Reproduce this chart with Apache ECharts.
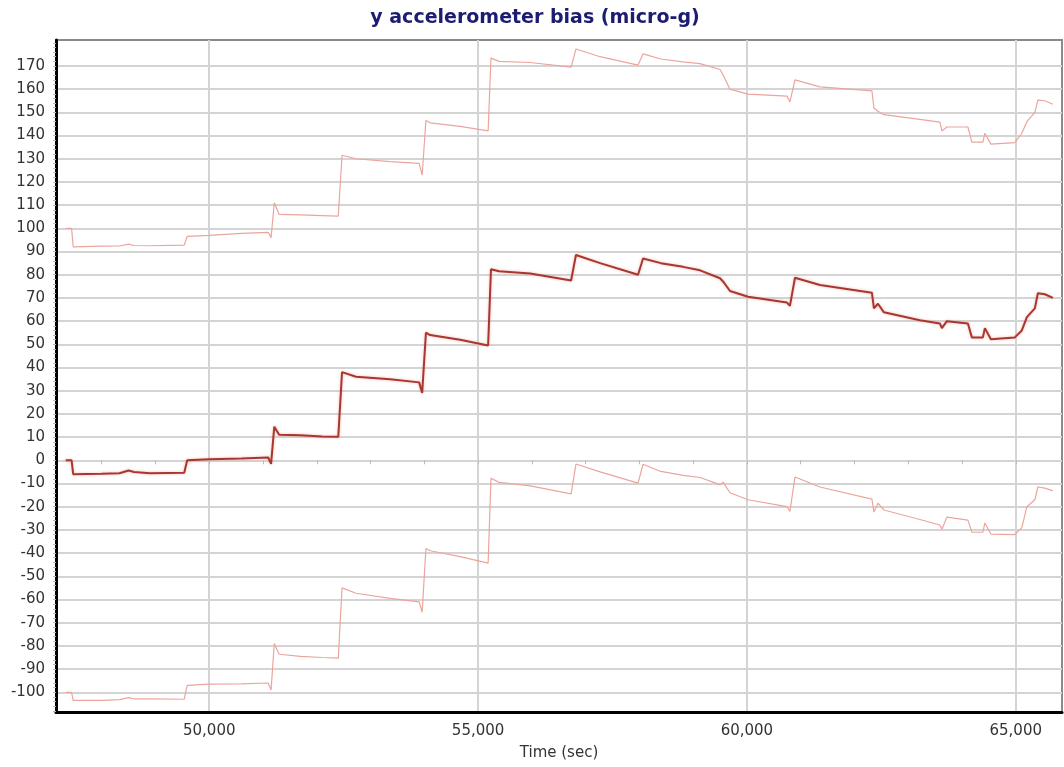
<!DOCTYPE html>
<html>
<head>
<meta charset="utf-8">
<script src="https://cdn.jsdelivr.net/npm/echarts@6/dist/echarts.min.js"></script>
<style>
html,body{margin:0;padding:0;background:#fff;}
#chart{width:1064px;height:767px;}
</style>
</head>
<body>
<div id="chart"></div>
<script>
const chartTitle = 'y accelerometer bias (micro-g)';
const xAxisName = 'Time (sec)';

const times = [47330, 47440, 47470, 48000, 48330, 48500, 48600, 48900, 49535, 49590,
  50000, 50600, 51097, 51150, 51210, 51300, 51700, 52100, 52400, 52470,
  52730, 53365, 53904, 53960, 54030, 54108, 54666, 55187, 55240, 55390,
  55970, 56730, 56820, 57270, 57975, 58068, 58400, 58812, 59128, 59500,
  59560, 59685, 60020, 60745, 60800, 60894, 61358, 62325, 62362, 62437,
  62548, 63217, 63589, 63626, 63719, 64110, 64184, 64389, 64426, 64537,
  64983, 65113, 65207, 65355, 65411, 65541, 65690];

const biasMid = [0, 0, -6, -5.8, -5.6, -4.4, -5.0, -5.6, -5.4, 0,
  0.5, 0.8, 1.2, -1.5, 14.5, 11, 10.8, 10.3, 10.2, 38,
  36, 35, 33.6, 29, 55, 54, 52, 49.5, 82.4, 81.5,
  80.5, 77.5, 88.5, 85, 80, 87, 85, 83.4, 81.9, 78.5,
  77, 73, 70.5, 68, 66.6, 78.7, 75.6, 72.2, 65.5, 67.5,
  63.8, 60.4, 59, 57, 60, 59, 53, 53, 57, 52.2,
  53, 56, 61.7, 65.5, 72, 71.6, 70];

const biasUpper = [100, 100, 92, 92.3, 92.4, 93.2, 92.6, 92.5, 92.8, 96.5,
  97, 97.8, 98.3, 96, 111, 106, 105.8, 105.5, 105.3, 131.5,
  130, 128.8, 128, 123, 146.5, 145.5, 144, 142, 173.4, 172,
  171.5, 169.5, 177.3, 174, 170.4, 175.2, 173, 171.8, 171, 168.5,
  166, 160, 157.9, 157, 154.5, 164, 161, 159.3, 151.9, 150.5,
  149, 147, 145.8, 142, 143.7, 143.7, 137.2, 137.2, 141, 136.3,
  137, 141, 146, 150, 155.3, 155, 153.5];

const biasLower = [-100, -100, -103.5, -103.5, -103.2, -102.3, -102.8, -102.8, -103, -97,
  -96.5, -96.4, -96, -99, -79, -83.6, -84.5, -85, -85.3, -55,
  -57.3, -59.5, -61, -65.5, -38, -39, -41.5, -44.3, -7.7, -9.5,
  -11, -14.5, -1.6, -5, -9.8, -1.7, -4.8, -6.5, -7.4, -10.5,
  -9.5, -14, -17, -20, -22, -7.2, -11.5, -16.7, -22.3, -18.5,
  -21.4, -25.5, -27.9, -29.7, -24.5, -25.8, -31, -31, -27, -31.8,
  -32, -29, -20, -17, -11.5, -12, -13.2];

const xTickLabels = [50000, 55000, 60000, 65000];
const yTickLabels = [-100, -90, -80, -70, -60, -50, -40, -30, -20, -10, 0,
  10, 20, 30, 40, 50, 60, 70, 80, 90, 100, 110, 120, 130, 140, 150, 160, 170];

const xMin = 47150, xMax = 65860;
const yMin = -108.5, yMax = 181.2;

const xMinorTicks = [];
for (let v = 48000; v <= 65000; v += 1000) xMinorTicks.push(v);
const yMinorTicks = [];
for (let v = -108; v <= 180; v += 2) yMinorTicks.push(v);

const pairs = (vals) => times.map((t, i) => [t, vals[i]]);

const labelFont = { fontFamily: 'DejaVu Sans', fontSize: 15, color: '#333' };

const chart = echarts.init(document.getElementById('chart'), null, { renderer: 'canvas' });
chart.setOption({
  backgroundColor: '#ffffff',
  animation: false,
  title: {
    text: chartTitle,
    left: 530, top: 4, textAlign: 'center',
    textStyle: { fontFamily: 'DejaVu Sans', fontSize: 19, fontWeight: 'bold', color: '#1c1c70' }
  },
  grid: {
    left: 56, right: 2, top: 40, bottom: 55,
    show: true, borderColor: '#8a8a8a', borderWidth: 2, backgroundColor: '#fff'
  },
  xAxis: [{
    type: 'value', min: xMin, max: xMax, position: 'bottom',
    name: xAxisName, nameLocation: 'middle', nameGap: 34,
    nameTextStyle: { fontFamily: 'DejaVu Sans', fontSize: 15, color: '#333' },
    axisLine: { show: true, onZero: false, lineStyle: { color: '#000', width: 3 } },
    axisTick: { show: false, customValues: xTickLabels },
    axisLabel: Object.assign({ customValues: xTickLabels, margin: 12,
      formatter: v => v.toLocaleString('en-US') }, labelFont),
    splitLine: { show: true, lineStyle: { color: '#d4d4d4', width: 2 } }
  }, {
    type: 'value', min: xMin, max: xMax, position: 'bottom',
    axisLine: { show: false },
    axisTick: { show: true, customValues: xMinorTicks, length: 4, lineStyle: { color: '#bbb' } },
    axisLabel: { show: false },
    splitLine: { show: false }
  }],
  yAxis: [{
    type: 'value', min: yMin, max: yMax, position: 'left',
    axisLine: { show: true, onZero: false, lineStyle: { color: '#000', width: 3 } },
    axisTick: { show: false, customValues: yTickLabels },
    axisLabel: Object.assign({ customValues: yTickLabels, margin: 11 }, labelFont),
    splitLine: { show: true, lineStyle: { color: '#d4d4d4', width: 2 } }
  }, {
    type: 'value', min: yMin, max: yMax, position: 'left',
    axisLine: { show: false },
    axisTick: { show: true, customValues: yMinorTicks, length: 3, lineStyle: { color: '#bbb' } },
    axisLabel: { show: false },
    splitLine: { show: false }
  }],
  series: [{
    name: 'upper', type: 'line', xAxisIndex: 0, yAxisIndex: 0,
    data: pairs(biasUpper), showSymbol: false, symbol: 'none',
    lineStyle: { color: '#eba59d', width: 1.2 }
  }, {
    name: 'lower', type: 'line', xAxisIndex: 0, yAxisIndex: 0,
    data: pairs(biasLower), showSymbol: false, symbol: 'none',
    lineStyle: { color: '#eba59d', width: 1.2 }
  }, {
    name: 'bias', type: 'line', xAxisIndex: 0, yAxisIndex: 0,
    data: pairs(biasMid), showSymbol: false, symbol: 'none',
    lineStyle: { color: '#a8372f', width: 2, shadowColor: 'rgba(235,140,130,0.6)', shadowBlur: 3 }
  }]
});
</script>
</body>
</html>
